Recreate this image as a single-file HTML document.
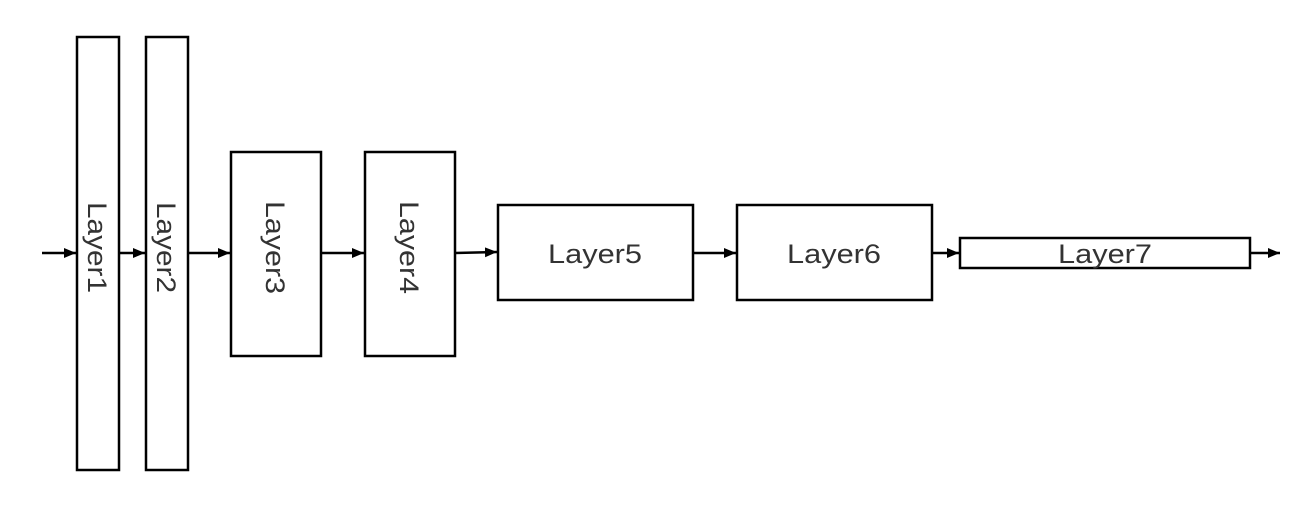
<!DOCTYPE html>
<html><head><style>body{margin:0;background:#fff}</style></head><body>
<svg width="1300" height="502" xmlns="http://www.w3.org/2000/svg" font-family="'Liberation Sans','Noto Sans CJK JP',sans-serif" font-size="27" fill="#333">
<defs><marker id="a" markerWidth="12" markerHeight="10" refX="12" refY="5" orient="auto" markerUnits="userSpaceOnUse"><path d="M0,0L12,5L0,10z" fill="#000"/></marker></defs>
<g fill="none" stroke="#000" stroke-width="2.5">
<rect x="77" y="37" width="42" height="433"/>
<rect x="146" y="37" width="42" height="433"/>
<rect x="231" y="152" width="90" height="204"/>
<rect x="365" y="152" width="90" height="204"/>
<rect x="498" y="205" width="195" height="95"/>
<rect x="737" y="205" width="195" height="95"/>
<rect x="960" y="238" width="290" height="30"/>
<g marker-end="url(#a)">
<line x1="42" y1="253" x2="76" y2="253"/>
<line x1="119" y1="253" x2="145" y2="253"/>
<line x1="188" y1="253" x2="230" y2="253"/>
<line x1="321" y1="253" x2="364" y2="253"/>
<line x1="455" y1="253" x2="497" y2="252"/>
<line x1="693" y1="253" x2="736" y2="253"/>
<line x1="932" y1="253" x2="959" y2="253"/>
<line x1="1250" y1="253" x2="1280" y2="253"/>
</g></g>
<g>
<text transform="translate(88,202) rotate(90)" textLength="91" lengthAdjust="spacingAndGlyphs">Layer1</text>
<text transform="translate(157,202) rotate(90)" textLength="91" lengthAdjust="spacingAndGlyphs">Layer2</text>
<text transform="translate(266,201) rotate(90)" textLength="93" lengthAdjust="spacingAndGlyphs">Layer3</text>
<text transform="translate(400,201) rotate(90)" textLength="93" lengthAdjust="spacingAndGlyphs">Layer4</text>
<text x="548" y="263" textLength="94" lengthAdjust="spacingAndGlyphs">Layer5</text>
<text x="787" y="263" textLength="94" lengthAdjust="spacingAndGlyphs">Layer6</text>
<text x="1058" y="263" textLength="94" lengthAdjust="spacingAndGlyphs">Layer7</text>
</g>
</svg>
</body></html>
